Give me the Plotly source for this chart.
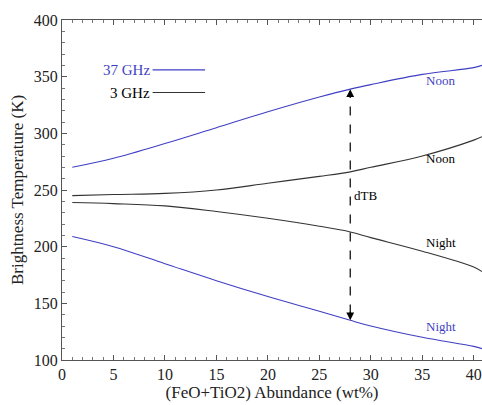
import plotly.graph_objects as go

abundance = [1, 5, 10, 15, 20, 25, 28, 30, 35, 40, 40.8]
tb37_noon = [270, 278, 291, 305, 319, 332, 339, 343, 352, 358, 360]
tb3_noon = [245, 246, 247, 250, 256, 262, 266, 270, 280, 294, 297]
tb3_night = [239, 238, 236, 231, 225, 218, 213, 208, 196, 182, 178]
tb37_night = [209, 200, 185, 170, 156, 143, 135, 130, 120, 112, 110]

arrow_x = 28
arrow_low, arrow_high = 135, 339

BLUE = "#3f3fc4"
BLACK = "#333333"
FONT = "Liberation Serif, Times New Roman, serif"

fig = go.Figure()
for y, c in [(tb37_noon, BLUE), (tb3_noon, BLACK), (tb3_night, BLACK), (tb37_night, BLUE)]:
    fig.add_trace(go.Scatter(x=abundance, y=y, mode="lines",
                             line=dict(color=c, width=1.1, shape="spline"),
                             showlegend=False, hoverinfo="skip"))

# legend-style lines
fig.add_trace(go.Scatter(x=[8.8, 13.9], y=[356, 356], mode="lines",
                         line=dict(color=BLUE, width=1.1), showlegend=False))
fig.add_trace(go.Scatter(x=[8.8, 13.9], y=[336, 336], mode="lines",
                         line=dict(color=BLACK, width=1.1), showlegend=False))

# dashed arrow shaft
fig.add_trace(go.Scatter(x=[arrow_x, arrow_x], y=[arrow_low + 6, arrow_high - 6], mode="lines",
                         line=dict(color="black", width=1.2, dash="dash"), showlegend=False))

anns = [
    dict(x=arrow_x, y=arrow_high, ax=0, ay=10, showarrow=True, arrowhead=2,
         arrowsize=1.3, arrowwidth=1.2, arrowcolor="black", text=""),
    dict(x=arrow_x, y=arrow_low, ax=0, ay=-10, showarrow=True, arrowhead=2,
         arrowsize=1.3, arrowwidth=1.2, arrowcolor="black", text=""),
    dict(x=28.2, y=245, text="dTB", xanchor="left", showarrow=False,
         font=dict(color="black", size=13)),
    dict(x=8.7, y=356, text="37 GHz", xanchor="right", showarrow=False,
         font=dict(color=BLUE, size=15)),
    dict(x=8.7, y=336, text="3 GHz", xanchor="right", showarrow=False,
         font=dict(color="black", size=15)),
    dict(x=36.8, y=347, text="Noon", showarrow=False, font=dict(color=BLUE, size=13)),
    dict(x=36.8, y=278, text="Noon", showarrow=False, font=dict(color="black", size=13)),
    dict(x=36.8, y=204, text="Night", showarrow=False, font=dict(color="black", size=13)),
    dict(x=36.8, y=130, text="Night", showarrow=False, font=dict(color=BLUE, size=13)),
]

fig.update_layout(
    width=482, height=405,
    margin=dict(l=62, r=0, t=20, b=45, autoexpand=False),
    paper_bgcolor="white", plot_bgcolor="white",
    font=dict(family=FONT, color="#222222", size=16),
    annotations=anns,
    showlegend=False,
)
fig.update_xaxes(range=[0, 40.8], tickvals=[0, 5, 10, 15, 20, 25, 30, 35, 40],
                 ticks="inside", ticklen=5, tickcolor="#555", showgrid=False, zeroline=False,
                 showline=True, linecolor="#555", linewidth=1, mirror="ticks", automargin=False,
                 minor=dict(dtick=1, ticks="inside", ticklen=3, tickcolor="#777"),
                 title=dict(text="(FeO+TiO2) Abundance (wt%)", font=dict(size=17), standoff=3),
                 tickfont=dict(size=16))
fig.update_yaxes(range=[100, 400], tickvals=[100, 150, 200, 250, 300, 350, 400],
                 ticks="inside", ticklen=5, tickcolor="#555", showgrid=False, zeroline=False,
                 showline=True, linecolor="#555", linewidth=1, automargin=False,
                 minor=dict(dtick=10, ticks="inside", ticklen=3, tickcolor="#777"),
                 title=dict(text="Brightness Temperature (K)", font=dict(size=17), standoff=5),
                 tickfont=dict(size=16))

fig.write_html("out.html", config={"displayModeBar": False},
               post_script="document.body.style.margin='0';document.body.style.overflow='hidden';")
